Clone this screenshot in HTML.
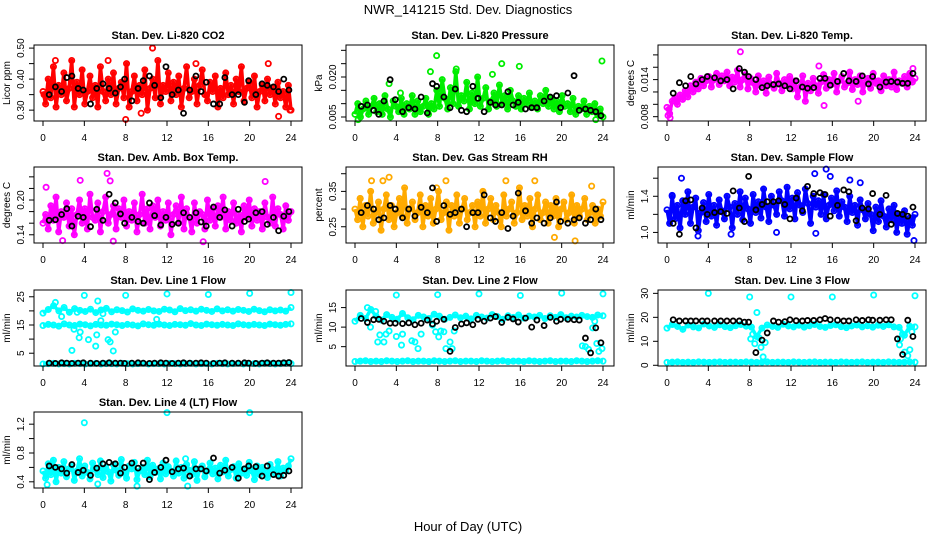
<!DOCTYPE html>
<html><head><meta charset="utf-8"><style>
html,body{margin:0;padding:0;background:#fff;}
svg{display:block;font-family:"Liberation Sans",sans-serif;}
</style></head><body>
<svg id="chart" width="936" height="540" viewBox="0 0 936 540" xmlns="http://www.w3.org/2000/svg">
<text x="468" y="14" text-anchor="middle" font-size="13">NWR_141215  Std. Dev. Diagnostics</text>
<text x="468" y="531" text-anchor="middle" font-size="13">Hour of Day (UTC)</text>
</svg>
<script>
const xTickLabels = [0,4,8,12,16,20,24];
const blackHours = [0.6,1.2,1.8,2.3,2.8,3.4,3.9,4.6,5.2,5.8,6.4,7.0,7.5,7.9,8.6,9.2,9.7,10.3,10.8,11.4,11.9,12.5,13.1,13.6,14.2,14.8,15.3,15.8,16.5,17.1,17.6,18.3,18.9,19.5,19.9,20.6,21.2,21.7,22.3,22.8,23.3,23.8];

const co2Values = [.36,.32,.40,.34,.44,.31,.38,.35,.42,.33,.37,.46,.31,.39,.35,.43,.32,.36,.41,.34,.38,.31,.44,.36,.33,.40,.35,.42,.32,.37,.39,.34,.45,.31,.36,.41,.33,.38,.35,.43,.30,.37,.40,.34,.46,.32,.38,.36,.42,.33,.39,.35,.41,.31,.37,.44,.34,.36,.40,.32,.38,.43,.35,.33,.39,.36,.41,.31,.37,.34,.42,.35,.38,.32,.40,.36,.44,.33,.37,.39,.34,.41,.31,.36,.38,.33,.40,.35,.37,.32,.39,.34,.36,.31,.38,.30];
const co2Outliers = [[8,.27],[10.6,.50],[1.2,.46],[6.3,.46],[21.8,.45],[22.8,.28],[9.5,.29],[14.8,.45],[0.1,.35],[23.9,.30]];
const co2Black = [.35,.375,.36,.405,.41,.37,.365,.32,.37,.385,.37,.355,.375,.40,.33,.37,.395,.41,.38,.34,.44,.35,.365,.29,.365,.41,.36,.39,.32,.32,.405,.35,.35,.325,.395,.35,.385,.38,.375,.36,.40,.365];

const pressValues = [.006,.010,.005,.008,.011,.006,.009,.012,.007,.010,.006,.013,.008,.005,.011,.009,.007,.012,.006,.010,.008,.013,.006,.011,.007,.009,.012,.006,.010,.008,.015,.009,.019,.012,.008,.016,.010,.022,.009,.013,.011,.018,.008,.014,.010,.020,.009,.012,.016,.008,.011,.014,.009,.017,.010,.013,.008,.015,.011,.009,.013,.008,.012,.010,.014,.009,.011,.008,.013,.010,.015,.009,.012,.008,.011,.007,.013,.009,.010,.007,.012,.006,.009,.008,.011,.006,.009,.007,.010,.006,.008,.005];
const pressOutliers = [[0.3,.004],[3.3,.0175],[7.9,.028],[13.3,.021],[14.2,.025],[15.9,.024],[23.9,.026],[4.4,.014],[23.3,.004],[7.3,.022],[9.8,.023]];
const pressBlack = [.009,.0095,.0075,.006,.011,.019,.0115,.007,.0085,.008,.0125,.0065,.0175,.0165,.0125,.0085,.0155,.0075,.007,.0165,.012,.007,.0105,.0095,.0095,.0145,.0095,.0105,.008,.0085,.0085,.011,.0125,.013,.0085,.014,.0205,.0075,.008,.0075,.007,.0055];

const tempValues = [.0095,.0085,.0105,.0110,.0100,.0115,.0108,.0122,.0112,.0130,.0120,.0136,.0125,.0142,.0130,.0138,.0145,.0128,.0140,.0150,.0132,.0146,.0138,.0152,.0130,.0144,.0136,.0155,.0128,.0140,.0148,.0125,.0142,.0135,.0120,.0146,.0130,.0138,.0118,.0144,.0132,.0126,.0150,.0134,.0122,.0140,.0130,.0145,.0125,.0138,.0112,.0128,.0146,.0105,.0134,.0122,.0142,.0130,.0118,.0136,.0148,.0126,.0140,.0132,.0150,.0120,.0138,.0145,.0128,.0134,.0152,.0124,.0140,.0132,.0146,.0120,.0136,.0142,.0126,.0150,.0134,.0138,.0122,.0146,.0130,.0140,.0128,.0152,.0124,.0138,.0134,.0145,.0128,.0150,.0136,.0142];
const tempOutliers = [[0.1,.0082],[0.3,.0078],[7.1,.0185],[14.7,.0162],[18.5,.0105],[23.8,.0158],[15.2,.0098],[0.2,.0092]];
const tempBlack = [.0118,.0135,.013,.0145,.0133,.014,.0145,.0143,.0138,.0140,.0125,.0158,.0152,.0145,.0140,.0127,.0130,.0132,.0133,.0130,.0125,.0138,.0128,.0126,.0127,.0142,.0142,.0131,.0137,.0150,.0138,.0137,.0146,.0133,.0145,.0128,.0136,.0137,.0136,.0134,.0134,.0150];

const ambValues = [.160,.175,.150,.190,.165,.205,.145,.180,.170,.195,.155,.185,.140,.175,.200,.160,.185,.150,.210,.170,.165,.195,.145,.180,.205,.160,.175,.190,.150,.185,.170,.200,.155,.180,.165,.195,.145,.175,.210,.160,.185,.150,.190,.170,.200,.155,.180,.165,.195,.140,.175,.190,.160,.205,.150,.185,.170,.145,.195,.160,.180,.175,.150,.200,.165,.185,.155,.190,.170,.205,.150,.180,.165,.195,.160,.175,.145,.190,.170,.200,.155,.185,.165,.180,.150,.195,.170,.160,.205,.155,.185,.175,.150,.190,.165,.180];
const ambOutliers = [[6.2,.246],[6.5,.233],[21.5,.232],[0.3,.222],[15.5,.128],[6.8,.129],[1.9,.130],[3.6,.234]];
const ambBlack = [.165,.166,.175,.185,.155,.172,.170,.154,.184,.165,.210,.195,.176,.160,.170,.163,.160,.195,.173,.157,.170,.158,.160,.178,.170,.178,.162,.155,.188,.170,.183,.155,.184,.163,.167,.178,.180,.158,.170,.147,.172,.180];

const rhValues = [.30,.27,.33,.25,.31,.28,.35,.26,.29,.32,.24,.30,.34,.27,.31,.25,.29,.33,.28,.36,.26,.30,.32,.27,.29,.34,.25,.31,.28,.33,.26,.30,.35,.27,.29,.32,.24,.31,.28,.34,.26,.30,.33,.27,.29,.31,.25,.32,.28,.35,.26,.30,.33,.27,.31,.29,.25,.34,.28,.30,.32,.26,.29,.36,.27,.31,.28,.33,.25,.30,.34,.27,.29,.32,.26,.31,.28,.33,.25,.30,.32,.27,.29,.34,.26,.31,.28,.30,.33,.27,.29,.31,.26,.30,.28,.32];
const rhOutliers = [[1.6,.38],[3.3,.39],[2.7,.38],[8.8,.38],[14.6,.38],[17.4,.38],[22.9,.365],[19.3,.22],[21.3,.21],[7.9,.36],[0.5,.33]];
const rhBlack = [.29,.31,.30,.27,.275,.31,.30,.275,.30,.28,.305,.29,.36,.265,.31,.285,.29,.30,.25,.29,.29,.34,.275,.265,.29,.245,.28,.345,.295,.26,.275,.26,.275,.32,.265,.26,.27,.275,.26,.27,.30,.27];

const flowValues = [1.25,1.10,1.40,1.15,1.30,1.05,1.35,1.20,1.45,1.10,1.28,1.38,1.02,1.22,1.33,1.12,1.42,1.18,1.30,1.08,1.36,1.24,1.15,1.40,1.28,1.05,1.32,1.20,1.45,1.14,1.38,1.26,1.10,1.42,1.22,1.34,1.16,1.48,1.28,1.12,1.40,1.30,1.20,1.45,1.35,1.18,1.50,1.26,1.38,1.15,1.44,1.30,1.22,1.48,1.32,1.10,1.40,1.28,1.35,1.20,1.42,1.15,1.30,1.38,1.24,1.46,1.18,1.34,1.28,1.12,1.40,1.22,1.30,1.08,1.36,1.25,1.15,1.32,1.20,1.02,1.28,1.12,1.35,1.18,1.06,1.26,1.14,1.30,1.00,1.20,1.10,1.24,0.98,1.16,1.08,1.20];
const flowOutliers = [[1.4,1.60],[15.4,1.70],[14.3,1.65],[15.8,1.62],[17.7,1.58],[18.7,1.55],[0.5,1.41],[3.0,0.96],[6.2,0.98],[10.6,1.0],[23.9,0.91],[14.4,0.99]];
const flowBlack = [1.1,0.98,1.35,1.36,1.05,1.27,1.2,1.22,1.23,1.21,1.46,1.27,1.12,1.62,1.25,1.31,1.34,1.34,1.35,1.31,1.15,1.38,1.24,1.51,1.43,1.44,1.42,1.18,1.30,1.47,1.45,1.13,1.27,1.26,1.43,1.20,1.41,1.09,1.21,1.20,1.18,1.28];

const line1Upper = [19.2,20.5,21.8,20.0,21.2,19.5,20.8,20.2,19.8,20.6,19.4,20.3,20.9,19.7,20.4,20.1,19.6,20.7,20.2,19.9,20.5,20.0,19.8,20.6,20.3,19.7,20.8,20.1,20.4,19.9,20.6,20.2,19.8,20.7,20.0,20.4,19.9,20.5,20.2,19.8,20.6,20.1,19.7,20.4,20.0,20.3,19.9,21.2];
const line1Middle = [14.8,15.2,15.0,14.6,15.4,15.0,14.8,15.3,15.1,14.7,15.2,15.0,14.9,15.3,15.1,14.8,15.2,15.0,14.7,15.4,15.1,14.9,15.3,15.0,14.8,15.2,15.1,14.9,15.5,15.0,14.8,15.3,15.1,14.9,15.2,15.0,14.8,15.4,15.1,14.9,15.2,15.0,14.8,15.3,15.1,14.9,15.2,15.4];
const line1Lower = [1.2,1.3,1.4,1.2,1.3,1.2,1.4,1.3,1.2,1.3,1.4,1.2,1.3,1.3,1.2,1.4,1.3,1.2,1.3,1.4,1.2,1.3,1.3,1.2,1.4,1.3,1.2,1.3,1.4,1.2,1.3,1.3,1.2,1.4,1.3,1.2,1.3,1.4,1.2,1.3,1.3,1.2,1.4,1.3,1.2,1.3,1.4,1.3];
const line1Outliers = [[4,25.5],[8,25.5],[12,26],[16,25.8],[20,26.2],[24,26.5],[1.2,23],[5.3,23.5],[2.8,6],[3,13.5],[3.5,10.5],[3.6,12.5],[4.4,9.8],[5.1,7.5],[5.2,11.5],[6.3,9.8],[6.5,9],[6.8,5.8],[7,12.5],[5.8,19],[1.8,18],[11,17],[3.3,19.5],[5.6,16.5]];
const line1Black = [1.5,1.4,1.6,1.5,1.4,1.5,1.6,1.5,1.4,1.5,1.6,1.5,1.5,1.4,1.5,1.6,1.5,1.4,1.5,1.6,1.5,1.4,1.5,1.6,1.5,1.5,1.6,1.5,1.4,1.5,1.6,1.5,1.5,1.6,1.5,1.4,1.5,1.6,1.5,1.5,1.6,1.7];

const line2Upper = [11.5,13.0,12.2,14.5,12.8,11.8,13.2,12.5,12.0,13.5,12.4,11.9,13.0,12.6,12.2,13.3,12.8,12.0,12.5,13.1,12.4,12.8,12.1,13.0,12.6,12.3,13.2,12.7,12.0,12.9,12.5,13.1,12.3,12.8,12.6,13.0,12.2,12.9,12.5,13.2,12.4,12.8,12.6,13.0,12.7,12.5,13.1,12.9];
const line2Lower = [1.2,1.3,1.4,1.2,1.3,1.2,1.4,1.3,1.2,1.3,1.4,1.2,1.3,1.3,1.2,1.4,1.3,1.2,1.3,1.4,1.2,1.3,1.3,1.2,1.4,1.3,1.2,1.3,1.4,1.2,1.3,1.3,1.2,1.4,1.3,1.2,1.3,1.4,1.2,1.3,1.3,1.2,1.4,1.3,1.2,1.3,1.4,1.3];
const line2Outliers = [[4,18.2],[8,18.3],[12,18.5],[16,18.1],[20,18.7],[24,18.5],[1.5,10],[2.2,6.2],[2.4,8],[2.8,6.2],[3,8.2],[3.3,9],[4,7.6],[4.5,5.4],[4.6,8.2],[5.5,6.5],[5.8,6.2],[6.1,4.5],[6.4,8.2],[7.5,10.5],[7.8,8.8],[8.1,7.5],[8.3,9],[8.6,8.8],[8.8,4.5],[9.2,6.2],[9.4,4.5],[9.6,9],[22,5.2],[22.3,5],[22.6,4.3],[23,9.8],[23.4,5.8],[23.6,3.8],[23.9,4.5],[2,14],[1.2,15],[23.2,11.5]];
const line2Black = [12.2,11.2,11.9,12.0,11.5,11.0,11.0,10.9,11.1,10.6,11.0,11.8,10.8,11.5,12.0,3.8,9.9,10.8,11.1,10.6,12.0,11.5,12.3,12.7,11.2,12.5,12.1,11.3,12.3,10.0,11.8,10.4,12.5,11.5,12.0,12.0,11.9,11.8,7.2,3.4,9.8,6.0];

const line3Upper = [15.5,17.0,16.2,15.0,16.8,16.0,15.6,17.2,16.4,15.8,16.9,16.1,15.7,16.5,17.0,16.3,15.9,12.0,15.5,16.8,16.2,15.8,17.1,16.4,16.0,16.7,15.9,16.5,17.0,16.2,15.8,16.6,16.9,16.1,15.7,16.4,16.8,16.0,16.5,15.9,16.7,16.2,16.9,16.0,15.8,12.5,16.3,16.0];
const line3Lower = [1.2,1.3,1.4,1.2,1.3,1.2,1.4,1.3,1.2,1.3,1.4,1.2,1.3,1.3,1.2,1.4,1.3,1.2,1.3,1.4,1.2,1.3,1.3,1.2,1.4,1.3,1.2,1.3,1.4,1.2,1.3,1.3,1.2,1.4,1.3,1.2,1.3,1.4,1.2,1.3,1.3,1.2,1.4,1.3,1.2,1.3,1.4,1.3];
const line3Outliers = [[4,30],[8,28.5],[12,28.5],[16,28.5],[20,29.3],[24,29],[8.1,11],[8.3,13],[8.5,9],[8.7,22],[8.9,11.5],[9.1,7.5],[9.3,3.5],[9.5,9.5],[22.5,8.5],[22.8,13],[23,5.5],[23.3,4],[23.5,6.5],[23.7,14],[22.6,11]];
const line3Black = [19,18.5,18.5,18.5,18.5,18.5,18.5,18.5,18.5,18.5,18.5,18.5,18,18,5.3,10.5,13.5,18.5,18,18.2,19,18.6,18.5,18.7,18.7,19,19.5,19,18.8,18.5,18.5,19,18.7,19,18.8,18.8,19,19,11,4.5,18.8,12];

const line4Values = [.55,.45,.65,.50,.70,.40,.60,.52,.68,.47,.58,.63,.42,.55,.72,.48,.62,.53,.44,.66,.57,.50,.69,.46,.60,.54,.41,.64,.56,.49,.71,.52,.45,.62,.58,.67,.43,.55,.60,.50,.70,.47,.63,.53,.58,.44,.66,.51,.61,.55,.48,.69,.52,.60,.45,.64,.56,.50,.68,.42,.58,.62,.47,.55,.66,.51,.59,.44,.63,.54,.70,.48,.57,.61,.45,.65,.52,.58,.49,.67,.55,.43,.62,.50,.60,.53,.46,.64,.57,.51,.68,.48,.59,.55,.62,.72];
const line4Outliers = [[4,1.22],[12,1.36],[20,1.36],[0.4,0.36],[5.3,0.37],[14,0.34],[9.1,0.34],[13.8,0.72]];
const line4Black = [.62,.60,.58,.52,.64,.53,.56,.49,.59,.65,.67,.65,.52,.60,.66,.59,.66,.43,.53,.60,.70,.54,.58,.59,.48,.58,.58,.55,.73,.52,.56,.60,.45,.58,.62,.61,.48,.62,.50,.48,.49,.55];

const panels = [
 {name:'co2',title:'Stan. Dev. Li-820 CO2',ylab:'Licor ppm',col:0,row:0,ymin:.265,ymax:.51,ticks:[.30,.35,.40,.45,.50],labels:['0.30','','0.40','','0.50'],color:'#ff0000',series:[co2Values],out:co2Outliers,black:co2Black},
 {name:'pressure',title:'Stan. Dev. Li-820 Pressure',ylab:'kPa',col:1,row:0,ymin:.0035,ymax:.032,ticks:[.005,.010,.015,.020,.025,.030],labels:['0.005','','','0.020','',''],color:'#00ee00',series:[pressValues],out:pressOutliers,black:pressBlack},
 {name:'temp',title:'Stan. Dev. Li-820 Temp.',ylab:'degrees C',col:2,row:0,ymin:.0073,ymax:.0196,ticks:[.008,.010,.012,.014,.016,.018],labels:['0.008','','','0.014','',''],color:'#ff00ff',series:[tempValues],out:tempOutliers,black:tempBlack},
 {name:'amb-box-temp',title:'Stan. Dev. Amb. Box Temp.',ylab:'degrees C',col:0,row:1,ymin:.1258,ymax:.257,ticks:[.14,.16,.18,.20,.22,.24],labels:['0.14','','','0.20','',''],color:'#ff00ff',series:[ambValues],out:ambOutliers,black:ambBlack},
 {name:'gas-stream-rh',title:'Stan. Dev. Gas Stream RH',ylab:'percent',col:1,row:1,ymin:.204,ymax:.419,ticks:[.25,.30,.35,.40],labels:['0.25','','0.35',''],color:'#ffaa00',series:[rhValues],out:rhOutliers,black:rhBlack},
 {name:'sample-flow',title:'Stan. Dev. Sample Flow',ylab:'ml/min',col:2,row:1,ymin:.883,ymax:1.724,ticks:[1.0,1.2,1.4,1.6],labels:['1.0','','1.4',''],color:'#0000ff',series:[flowValues],out:flowOutliers,black:flowBlack},
 {name:'line1-flow',title:'Stan. Dev. Line 1 Flow',ylab:'ml/min',col:0,row:2,ymin:.47,ymax:27.4,ticks:[5,10,15,20,25],labels:['5','','15','','25'],color:'#00ffff',series:[line1Upper,line1Middle,line1Lower],out:line1Outliers,black:line1Black},
 {name:'line2-flow',title:'Stan. Dev. Line 2 Flow',ylab:'ml/min',col:1,row:2,ymin:.05,ymax:19.5,ticks:[5,10,15],labels:['5','10','15'],color:'#00ffff',series:[line2Upper,line2Lower],out:line2Outliers,black:line2Black},
 {name:'line3-flow',title:'Stan. Dev. Line 3 Flow',ylab:'ml/min',col:2,row:2,ymin:-.3,ymax:31.4,ticks:[0,10,20,30],labels:['0','10','20','30'],color:'#00ffff',series:[line3Upper,line3Lower],out:line3Outliers,black:line3Black},
 {name:'line4-lt-flow',title:'Stan. Dev. Line 4 (LT) Flow',ylab:'ml/min',col:0,row:3,ymin:.314,ymax:1.369,ticks:[.4,.6,.8,1.0,1.2],labels:['0.4','','0.8','','1.2'],color:'#00ffff',series:[line4Values],out:line4Outliers,black:line4Black}
];

const NS='http://www.w3.org/2000/svg';
const svg=document.getElementById('chart');
const colLeft=[34,346,658], rowTop=[45,167,290,412], W=268, H=76;
function mk(tag,attrs,parent){const e=document.createElementNS(NS,tag);for(const k in attrs)e.setAttribute(k,attrs[k]);parent.appendChild(e);return e;}

panels.forEach(p=>{
  const L=colLeft[p.col], T=rowTop[p.row], B=T+H;
  const xs=h=>L+9+h*(248/24);
  const ys=v=>B-(v-p.ymin)/(p.ymax-p.ymin)*H;
  const g=mk('g',{},svg);
  
  
  const t=mk('text',{x:L+W/2,y:T-6,'text-anchor':'middle','font-size':'11','font-weight':'bold'},g);
  t.textContent=p.title;
  
  
  const yl=mk('text',{x:0,y:0,'text-anchor':'middle','font-size':'10',transform:`translate(${L-24},${T+H/2}) rotate(-90)`},g);
  yl.textContent=p.ylab;
  
  
  const pts=mk('g',{fill:'none',stroke:p.color,'stroke-width':'1.8'},g);
  
  
  p.series.forEach(arr=>{
    const poly=arr.map((v,i)=>xs(i*24/(arr.length-1)).toFixed(1)+','+ys(v).toFixed(1)).join(' ');
    const pl=mk('polyline',{points:poly,'stroke-width':'3.5','stroke-linejoin':'round'},pts);
    
    
    arr.forEach((v,i)=>{
      const c=mk('circle',{cx:xs(i*24/(arr.length-1)),cy:ys(v),r:2.6},pts);
      
      
    });
  });
  p.out.forEach(o=>{
    const c=mk('circle',{cx:xs(o[0]),cy:ys(o[1]),r:2.6},pts);
    
    
  });
  const bk=mk('g',{fill:'none',stroke:'#000','stroke-width':'1.8'},g);
  
  
  p.black.forEach((v,i)=>{
    const c=mk('circle',{cx:xs(blackHours[i]),cy:ys(v),r:2.5},bk);
    
    
  });
  const box=mk('rect',{x:L,y:T,width:W,height:H,fill:'none',stroke:'#000','stroke-width':'1'},g);
  
  
  xTickLabels.forEach(h=>{
    mk('line',{x1:xs(h),x2:xs(h),y1:B,y2:B+5,stroke:'#000'},g);
    const tl=mk('text',{x:xs(h),y:B+20,'text-anchor':'middle','font-size':'10'},g);
    tl.textContent=h;
    
    
  });
  p.ticks.forEach((v,i)=>{
    mk('line',{x1:L,x2:L-5,y1:ys(v),y2:ys(v),stroke:'#000'},g);
    if(p.labels[i]){
      const tl=mk('text',{x:0,y:0,'text-anchor':'middle','font-size':'10',transform:`translate(${L-10},${ys(v)}) rotate(-90)`},g);
      tl.textContent=p.labels[i];
      
      
    }
  });
});
</script>
</body></html>
